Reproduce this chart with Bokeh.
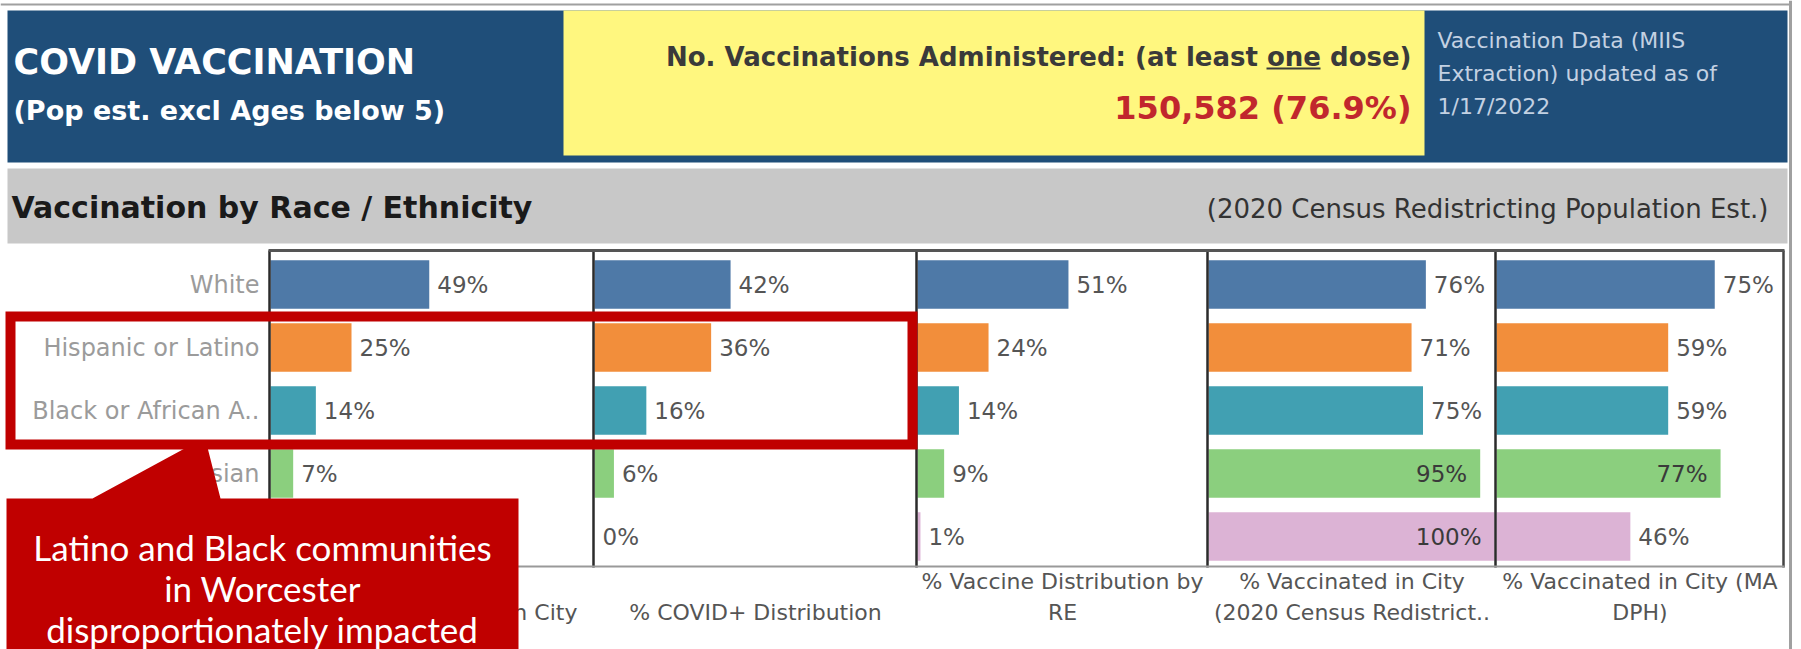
from bokeh.plotting import figure
from bokeh.models import Range1d, ColumnDataSource, Label
from bokeh.embed import file_html
from bokeh.resources import INLINE
from bokeh.core.properties import value

# ---------------- data ----------------
categories = ["White", "Hispanic or Latino", "Black or African A..", "Asian", "Other"]
bar_colors = ["#4e79a7", "#f28e3b", "#41a0b2", "#8bcf7e", "#dcb3d5"]
pop_in_city = [49, 25, 14, 7, 4]
covid_pos_distribution = [42, 36, 16, 6, 0]
vaccine_distribution = [51, 24, 14, 9, 1]
vaccinated_census = [76, 71, 75, 95, 100]
vaccinated_madph = [75, 59, 59, 77, 46]
panel_titles = [
    ["% Population by RE in City"],
    ["% COVID+ Distribution"],
    ["% Vaccine Distribution by", "RE"],
    ["% Vaccinated in City", "(2020 Census Redistrict.."],
    ["% Vaccinated in City (MA", "DPH)"],
]
series = [pop_in_city, covid_pos_distribution, vaccine_distribution,
          vaccinated_census, vaccinated_madph]

title_main = "COVID VACCINATION"
title_sub = "(Pop est. excl Ages below 5)"
kpi_label = "No. Vaccinations Administered: (at least one dose)"
kpi_value = "150,582 (76.9%)"
update_lines = ["Vaccination Data (MIIS", "Extraction) updated as of", "1/17/2022"]
section_title = "Vaccination by Race / Ethnicity"
section_note = "(2020 Census Redistricting Population Est.)"
callout_lines = ["Latino and Black communities", "in Worcester", "disproportionately impacted"]

# ---------------- layout (page pixels) ----------------
W, H = 1801, 649
X0, Y0 = 0, 0
PANELS = [(270, 593, 3.24), (594, 916, 3.24), (917, 1207, 2.96),
          (1208, 1495, 2.86), (1496, 1783, 2.91)]   # left px, right px, px per %
ROW0, PITCH = 284, 63
BAR_H = 0.77
LABEL_ROOM = 64
FONT = "DejaVu Sans"

p = figure(width=W, height=H, x_range=Range1d(X0, X0 + W), y_range=Range1d(Y0 + H, Y0),
           output_backend="svg", toolbar_location=None, title=None,
           x_axis_location=None, y_axis_location=None, min_border=0)
p.grid.visible = False
p.outline_line_color = None
p.background_fill_color = "white"
p.border_fill_color = "white"

xr = {}
for k, (a, b, s) in enumerate(PANELS):
    xr[f"panel{k}"] = Range1d((X0 - a) / s, (X0 + W - a) / s)
p.extra_x_ranges = xr
p.extra_y_ranges = {"rows": Range1d((Y0 + H - ROW0) / PITCH, (Y0 - ROW0) / PITCH)}

# ---------------- header ----------------
p.segment(x0=0, y0=4, x1=1790, y1=4, line_color="#a0a0a0", line_width=2)
p.quad(left=7, right=1787, top=10, bottom=162, fill_color="#1f4e79", line_color=None)
p.quad(left=563, right=1424, top=10, bottom=155, fill_color="#fff77f", line_color=None)
p.quad(left=7, right=1787, top=168, bottom=243, fill_color="#c8c8c8", line_color=None)
p.segment(x0=1790, y0=0, x1=1790, y1=H, line_color="#a0a0a0", line_width=3)

def lab(x, y, text, size, color, bold=False, align="left", font=FONT):
    p.add_layout(Label(x=x, y=y, text=text, text_font=font, text_font_size=f"{size}px",
                       text_font_style="bold" if bold else "normal", text_color=color,
                       text_align=align, text_baseline="middle"))

lab(13, 61, title_main, 35, "white", bold=True)
lab(13, 110, title_sub, 27, "white", bold=True)
lab(1411, 56, kpi_label, 26, "#3a3a3a", bold=True, align="right")
p.segment(x0=1266, y0=68, x1=1320, y1=68, line_color="#3a3a3a", line_width=2)
lab(1411, 107, kpi_value, 32, "#c1272d", bold=True, align="right")
for i, t in enumerate(update_lines):
    lab(1437, 40 + 33 * i, t, 22, "#c3d1e2")
lab(11, 207, section_title, 30, "#1a1a1a", bold=True)
lab(1768, 208, section_note, 26, "#333333", align="right")

# ---------------- bars ----------------
rows = list(range(len(categories)))
for k, (vals, (a, b, s)) in enumerate(zip(series, PANELS)):
    rn = f"panel{k}"
    src = ColumnDataSource(dict(y=rows, v=vals, c=bar_colors))
    p.hbar(y="y", left=0, right="v", height=BAR_H, fill_color="c", line_color=None,
           source=src, x_range_name=rn, y_range_name="rows")
    span = (b - a) / s
    out_x, out_y, out_t, in_x, in_y, in_t = [], [], [], [], [], []
    for r, v in zip(rows, vals):
        if v + LABEL_ROOM / s > span:
            in_x.append(v); in_y.append(r); in_t.append(f"{v}%")
        else:
            out_x.append(v); out_y.append(r); out_t.append(f"{v}%")
    p.text(x=out_x, y=out_y, text=out_t, x_offset=8, text_align="left", text_baseline="middle",
           text_font=value(FONT), text_font_size="23px", text_color="#555555",
           x_range_name=rn, y_range_name="rows")
    if in_x:
        p.text(x=in_x, y=in_y, text=in_t, x_offset=-13, text_align="right", text_baseline="middle",
               text_font=value(FONT), text_font_size="23px", text_color="#3a3a3a",
               x_range_name=rn, y_range_name="rows")
    # header below panel (bottom aligned)
    lines = panel_titles[k]
    ys = [612] if len(lines) == 1 else [581, 612]
    for t, yy in zip(lines, ys):
        p.text(x=[span / 2], y=[yy], text=[t], text_align="center", text_baseline="middle",
               text_font=value(FONT), text_font_size="22px", text_color="#555555",
               x_range_name=rn)

# row labels
p.text(x=[0] * len(rows), y=rows, text=categories, x_offset=-11, text_align="right",
       text_baseline="middle", text_font=value(FONT), text_font_size="24px",
       text_color="#9b9b9b", x_range_name="panel0", y_range_name="rows")

# panel borders
for (a, b, s) in PANELS:
    p.segment(x0=a - 1, y0=250, x1=a - 1, y1=567, line_color="#2b2b2b", line_width=2.5)
p.segment(x0=PANELS[-1][1], y0=250, x1=PANELS[-1][1], y1=567, line_color="#444444", line_width=2.5)
p.segment(x0=PANELS[0][0] - 2, y0=250, x1=PANELS[-1][1] + 1, y1=250, line_color="#555555", line_width=3)
p.segment(x0=PANELS[0][0] - 2, y0=566, x1=PANELS[-1][1] + 1, y1=566, line_color="#999999", line_width=2)

# ---------------- highlight + callout ----------------
p.quad(left=10, right=912, top=316, bottom=444, fill_color=None, line_color="#c00000",
       line_width=10, line_join="miter")
p.patch(x=[6, 92, 186, 207, 220, 518, 518, 6], y=[498, 498, 447, 447, 498, 498, 700, 700],
        fill_color="#c00000", line_color=None)
for i, t in enumerate(callout_lines):
    lab(262, 546 + 41 * i, t, 35, "white", align="center", font="Lato")

open("out.html", "w").write(file_html(p, INLINE))
